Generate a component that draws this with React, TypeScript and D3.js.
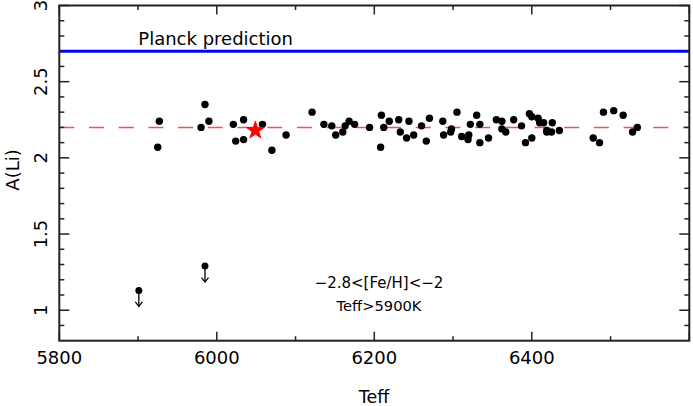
import React from "react";
import * as d3 from "d3";

const detTeff = [5927, 5925, 5985, 5980, 5990, 6021, 6034, 6024, 6034, 6058, 6088, 6070, 6121, 6136, 6146, 6151, 6160, 6163, 6168, 6175, 6194, 6209, 6219, 6212, 6208, 6231, 6233, 6241, 6244, 6250, 6260, 6270, 6266, 6287, 6288, 6297, 6298, 6305, 6311, 6320, 6319, 6322, 6330, 6334, 6334, 6345, 6355, 6362, 6362, 6367, 6377, 6387, 6397, 6400, 6408, 6410, 6415, 6419, 6419, 6425, 6426, 6435, 6392, 6400, 6478, 6486, 6491, 6504, 6516, 6528, 6534];
const detALi = [2.24, 2.07, 2.35, 2.2, 2.24, 2.22, 2.25, 2.11, 2.12, 2.22, 2.15, 2.05, 2.3, 2.22, 2.21, 2.15, 2.17, 2.21, 2.24, 2.22, 2.2, 2.28, 2.24, 2.2, 2.07, 2.25, 2.17, 2.13, 2.24, 2.15, 2.21, 2.26, 2.11, 2.24, 2.15, 2.17, 2.19, 2.3, 2.14, 2.15, 2.12, 2.22, 2.28, 2.22, 2.1, 2.13, 2.25, 2.24, 2.19, 2.17, 2.25, 2.21, 2.29, 2.27, 2.26, 2.23, 2.23, 2.18, 2.17, 2.17, 2.23, 2.18, 2.1, 2.13, 2.13, 2.1, 2.3, 2.31, 2.28, 2.17, 2.2];
const limTeff = [5901, 5985];
const limALi = [1.13, 1.29];
const starTeff = [6049];
const starALi = [2.18];
const plancks = [2.7];
const plateau = [2.2];
const xMajor = [5800, 6000, 6200, 6400, 6600];
const xMinor = [5900, 6100, 6300, 6500];
const yMajor = [1, 1.5, 2, 2.5, 3];
const yMinor = [0.9, 1.1, 1.2, 1.3, 1.4, 1.6, 1.7, 1.8, 1.9, 2.1, 2.2, 2.3, 2.4, 2.6, 2.7, 2.8, 2.9];
const xLabelText = ["5800", "6000", "6200", "6400"];

const W = 693, H = 406;
const L = 59.3, R = 689.3, T = 5.5, B = 340.7;

export default function App() {
  const x = d3.scaleLinear().domain([5800, 6600]).range([L, R]);
  const y = d3.scaleLinear().domain([0.8, 3]).range([B, T]);
  const font = "'DejaVu Sans', sans-serif";
  const ax = "#222";
  const star = d3.symbol().type(d3.symbolStar).size(95)();
  return (
    <svg width={W} height={H} style={{ position: "absolute", left: 0, top: 0, background: "#fff" }} fontFamily={font}>
      <rect x={0} y={0} width={W} height={H} fill="#fff" />
      {/* reference lines */}
      {plancks.map((v, i) => (
        <line key={"p" + i} x1={L} x2={R} y1={y(v)} y2={y(v)} stroke="#0000ff" strokeWidth={3} />
      ))}
      {plateau.map((v, i) => (
        <line key={"d" + i} x1={L} x2={R} y1={y(v)} y2={y(v)} stroke="#ff4d4d" strokeWidth={1.5} strokeDasharray="15,14.7" />
      ))}
      <text x={138.3} y={45} fontSize={18} fill="#000">Planck prediction</text>
      {/* points */}
      {detTeff.map((t, i) => (
        <circle key={"c" + i} cx={x(t)} cy={y(detALi[i])} r={3.7} fill="#000" />
      ))}
      {limTeff.map((t, i) => {
        const cx = x(t), cy = y(limALi[i]);
        return (
          <g key={"l" + i}>
            <circle cx={cx} cy={cy} r={3.5} fill="#000" />
            <line x1={cx} x2={cx} y1={cy} y2={cy + 16} stroke="#000" strokeWidth={1.3} />
            <path d={`M${cx - 3.5},${cy + 11.5} L${cx},${cy + 16} L${cx + 3.5},${cy + 11.5}`} fill="none" stroke="#000" strokeWidth={1.3} />
          </g>
        );
      })}
      {starTeff.map((t, i) => (
        <path key={"s" + i} d={star || ""} transform={`translate(${x(t)},${y(starALi[i])})`} fill="#ff0000" stroke="#ff0000" strokeWidth={1} />
      ))}
      {/* annotation */}
      <text x={379} y={288} fontSize={15} textAnchor="middle" fill="#000">−2.8&lt;[Fe/H]&lt;−2</text>
      <text x={379} y={310.7} fontSize={14.7} textAnchor="middle" fill="#000">Teff&gt;5900K</text>
      {/* frame */}
      <rect x={L} y={T} width={R - L} height={B - T} fill="none" stroke={ax} strokeWidth={2} />
      {xMajor.map((v) => (
        <g key={"xm" + v}>
          <line x1={x(v)} x2={x(v)} y1={B} y2={B - 9} stroke={ax} strokeWidth={1.5} />
          <line x1={x(v)} x2={x(v)} y1={T} y2={T + 9} stroke={ax} strokeWidth={1.5} />
        </g>
      ))}
      {xMinor.map((v) => (
        <g key={"xn" + v}>
          <line x1={x(v)} x2={x(v)} y1={B} y2={B - 4.5} stroke={ax} strokeWidth={1.5} />
          <line x1={x(v)} x2={x(v)} y1={T} y2={T + 4.5} stroke={ax} strokeWidth={1.5} />
        </g>
      ))}
      {yMajor.map((v) => (
        <g key={"ym" + v}>
          <line x1={L} x2={L + 10} y1={y(v)} y2={y(v)} stroke={ax} strokeWidth={1.5} />
          <line x1={R} x2={R - 10} y1={y(v)} y2={y(v)} stroke={ax} strokeWidth={1.5} />
        </g>
      ))}
      {yMinor.map((v) => (
        <g key={"yn" + v}>
          <line x1={L} x2={L + 5} y1={y(v)} y2={y(v)} stroke={ax} strokeWidth={1.5} />
          <line x1={R} x2={R - 5} y1={y(v)} y2={y(v)} stroke={ax} strokeWidth={1.5} />
        </g>
      ))}
      {/* tick labels */}
      {xLabelText.map((s) => (
        <text key={"xl" + s} x={x(+s)} y={364.3} fontSize={18} textAnchor="middle" fill="#000">{s}</text>
      ))}
      {yMajor.map((v) => (
        <text key={"yl" + v} transform={`translate(47,${y(v)}) rotate(-90)`} fontSize={18} textAnchor="middle" fill="#000">{String(v)}</text>
      ))}
      <text x={374} y={403} fontSize={17.5} textAnchor="middle" fill="#000">Teff</text>
      <text transform={`translate(19,170) rotate(-90)`} fontSize={18} textAnchor="middle" fill="#000">A(Li)</text>
    </svg>
  );
}
